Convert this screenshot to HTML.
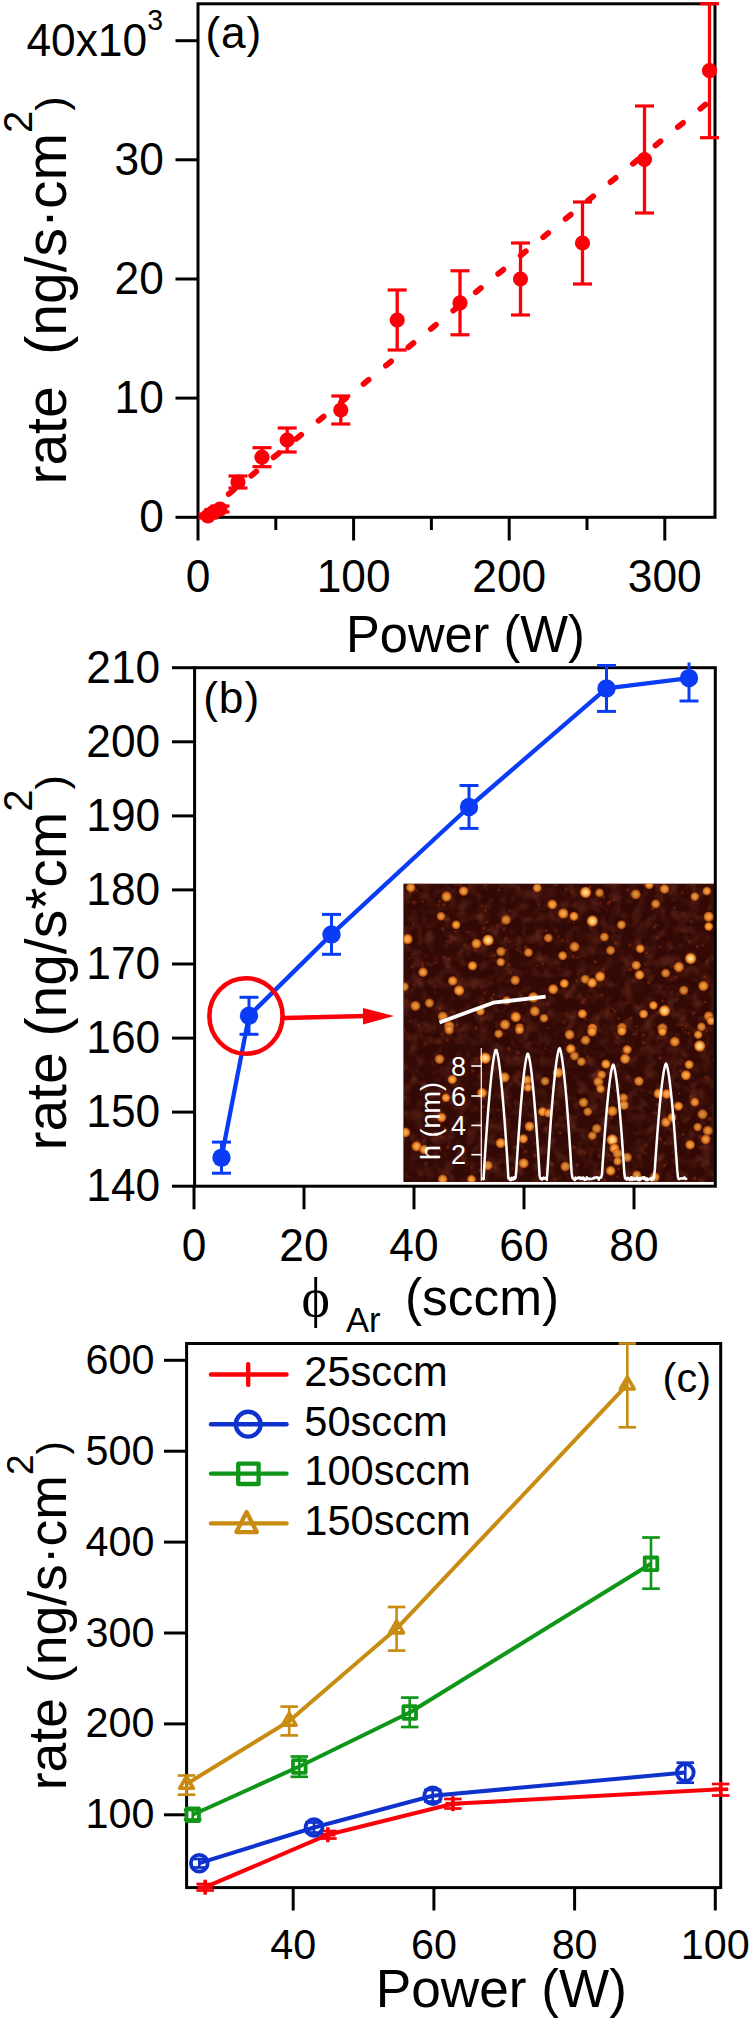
<!DOCTYPE html>
<html><head><meta charset="utf-8"><title>figure</title>
<style>html,body{margin:0;padding:0;background:#fff}svg{display:block}</style></head>
<body>
<svg width="750" height="2021" viewBox="0 0 750 2021" font-family="'Liberation Sans', Arial, sans-serif">
<rect width="750" height="2021" fill="#fff"/>
<rect x="198.0" y="3.8" width="517.0" height="513.5" fill="none" stroke="#000" stroke-width="3.0"/>
<line x1="198.0" y1="517.3" x2="198.0" y2="540.5" stroke="#000" stroke-width="3.0" />
<line x1="353.6" y1="517.3" x2="353.6" y2="540.5" stroke="#000" stroke-width="3.0" />
<line x1="509.2" y1="517.3" x2="509.2" y2="540.5" stroke="#000" stroke-width="3.0" />
<line x1="664.8" y1="517.3" x2="664.8" y2="540.5" stroke="#000" stroke-width="3.0" />
<line x1="275.8" y1="517.3" x2="275.8" y2="530.0" stroke="#000" stroke-width="3.0" />
<line x1="431.4" y1="517.3" x2="431.4" y2="530.0" stroke="#000" stroke-width="3.0" />
<line x1="587.0" y1="517.3" x2="587.0" y2="530.0" stroke="#000" stroke-width="3.0" />
<line x1="175.5" y1="517.3" x2="198.0" y2="517.3" stroke="#000" stroke-width="3.0" />
<line x1="175.5" y1="398.1" x2="198.0" y2="398.1" stroke="#000" stroke-width="3.0" />
<line x1="175.5" y1="279.0" x2="198.0" y2="279.0" stroke="#000" stroke-width="3.0" />
<line x1="175.5" y1="159.8" x2="198.0" y2="159.8" stroke="#000" stroke-width="3.0" />
<line x1="175.5" y1="40.7" x2="198.0" y2="40.7" stroke="#000" stroke-width="3.0" />
<text transform="translate(163.8,532.3) scale(1,1.04)" font-size="44.3" text-anchor="end" fill="#000" >0</text>
<text transform="translate(163.8,413.1) scale(1,1.04)" font-size="44.3" text-anchor="end" fill="#000" >10</text>
<text transform="translate(163.8,294.0) scale(1,1.04)" font-size="44.3" text-anchor="end" fill="#000" >20</text>
<text transform="translate(163.8,174.8) scale(1,1.04)" font-size="44.3" text-anchor="end" fill="#000" >30</text>
<text transform="translate(163.0,55.7) scale(1,1.04)" font-size="44.3" text-anchor="end" fill="#000" >40x10<tspan font-size="28.5" dy="-24.5">3</tspan></text>
<text transform="translate(198.0,592.2) scale(1,1.04)" font-size="44.3" text-anchor="middle" fill="#000" >0</text>
<text transform="translate(353.6,592.2) scale(1,1.04)" font-size="44.3" text-anchor="middle" fill="#000" >100</text>
<text transform="translate(509.2,592.2) scale(1,1.04)" font-size="44.3" text-anchor="middle" fill="#000" >200</text>
<text transform="translate(664.8,592.2) scale(1,1.04)" font-size="44.3" text-anchor="middle" fill="#000" >300</text>
<text transform="translate(465.5,652.2) scale(1,1.03)" font-size="50.6" text-anchor="middle" fill="#000" >Power (W)</text>
<text transform="translate(205.4,47.7) scale(1,1.0)" font-size="44.3" text-anchor="start" fill="#000" letter-spacing="0.9">(a)</text>
<text transform="translate(66,484.6) rotate(-90)" font-size="57" fill="#000" xml:space="preserve">rate  (ng/s·cm<tspan font-size="40" dy="-34">2</tspan><tspan font-size="43" dy="34">)</tspan></text>
<line x1="206.3" y1="512.4" x2="712" y2="99.2" stroke="#fa0008" stroke-width="5.8" stroke-linecap="round" stroke-dasharray="6.6 22.4"/>
<line x1="208.0" y1="514.0" x2="208.0" y2="518.0" stroke="#fa0008" stroke-width="3.3" />
<line x1="198.5" y1="514.0" x2="217.5" y2="514.0" stroke="#fa0008" stroke-width="3.2" />
<line x1="198.5" y1="518.0" x2="217.5" y2="518.0" stroke="#fa0008" stroke-width="3.2" />
<circle cx="208" cy="516" r="7.6" fill="#fa0008"/>
<line x1="214.0" y1="509.5" x2="214.0" y2="514.5" stroke="#fa0008" stroke-width="3.3" />
<line x1="204.5" y1="509.5" x2="223.5" y2="509.5" stroke="#fa0008" stroke-width="3.2" />
<line x1="204.5" y1="514.5" x2="223.5" y2="514.5" stroke="#fa0008" stroke-width="3.2" />
<circle cx="214" cy="512" r="7.6" fill="#fa0008"/>
<line x1="220.0" y1="506.0" x2="220.0" y2="512.0" stroke="#fa0008" stroke-width="3.3" />
<line x1="210.5" y1="506.0" x2="229.5" y2="506.0" stroke="#fa0008" stroke-width="3.2" />
<line x1="210.5" y1="512.0" x2="229.5" y2="512.0" stroke="#fa0008" stroke-width="3.2" />
<circle cx="220" cy="509" r="7.6" fill="#fa0008"/>
<line x1="238.0" y1="476.0" x2="238.0" y2="488.0" stroke="#fa0008" stroke-width="3.3" />
<line x1="228.5" y1="476.0" x2="247.5" y2="476.0" stroke="#fa0008" stroke-width="3.2" />
<line x1="228.5" y1="488.0" x2="247.5" y2="488.0" stroke="#fa0008" stroke-width="3.2" />
<circle cx="238" cy="482" r="7.6" fill="#fa0008"/>
<line x1="262.0" y1="447.7" x2="262.0" y2="466.7" stroke="#fa0008" stroke-width="3.3" />
<line x1="252.5" y1="447.7" x2="271.5" y2="447.7" stroke="#fa0008" stroke-width="3.2" />
<line x1="252.5" y1="466.7" x2="271.5" y2="466.7" stroke="#fa0008" stroke-width="3.2" />
<circle cx="262" cy="457.2" r="7.6" fill="#fa0008"/>
<line x1="287.2" y1="428.0" x2="287.2" y2="452.0" stroke="#fa0008" stroke-width="3.3" />
<line x1="277.7" y1="428.0" x2="296.7" y2="428.0" stroke="#fa0008" stroke-width="3.2" />
<line x1="277.7" y1="452.0" x2="296.7" y2="452.0" stroke="#fa0008" stroke-width="3.2" />
<circle cx="287.2" cy="440" r="7.6" fill="#fa0008"/>
<line x1="340.8" y1="396.0" x2="340.8" y2="424.0" stroke="#fa0008" stroke-width="3.3" />
<line x1="331.3" y1="396.0" x2="350.3" y2="396.0" stroke="#fa0008" stroke-width="3.2" />
<line x1="331.3" y1="424.0" x2="350.3" y2="424.0" stroke="#fa0008" stroke-width="3.2" />
<circle cx="340.8" cy="410" r="7.6" fill="#fa0008"/>
<line x1="397.2" y1="290.0" x2="397.2" y2="350.0" stroke="#fa0008" stroke-width="3.3" />
<line x1="387.7" y1="290.0" x2="406.7" y2="290.0" stroke="#fa0008" stroke-width="3.2" />
<line x1="387.7" y1="350.0" x2="406.7" y2="350.0" stroke="#fa0008" stroke-width="3.2" />
<circle cx="397.2" cy="320" r="7.6" fill="#fa0008"/>
<line x1="460.0" y1="270.8" x2="460.0" y2="334.8" stroke="#fa0008" stroke-width="3.3" />
<line x1="450.5" y1="270.8" x2="469.5" y2="270.8" stroke="#fa0008" stroke-width="3.2" />
<line x1="450.5" y1="334.8" x2="469.5" y2="334.8" stroke="#fa0008" stroke-width="3.2" />
<circle cx="460" cy="302.8" r="7.6" fill="#fa0008"/>
<line x1="520.5" y1="243.0" x2="520.5" y2="315.0" stroke="#fa0008" stroke-width="3.3" />
<line x1="511.0" y1="243.0" x2="530.0" y2="243.0" stroke="#fa0008" stroke-width="3.2" />
<line x1="511.0" y1="315.0" x2="530.0" y2="315.0" stroke="#fa0008" stroke-width="3.2" />
<circle cx="520.5" cy="279" r="7.6" fill="#fa0008"/>
<line x1="582.5" y1="202.0" x2="582.5" y2="284.0" stroke="#fa0008" stroke-width="3.3" />
<line x1="573.0" y1="202.0" x2="592.0" y2="202.0" stroke="#fa0008" stroke-width="3.2" />
<line x1="573.0" y1="284.0" x2="592.0" y2="284.0" stroke="#fa0008" stroke-width="3.2" />
<circle cx="582.5" cy="243" r="7.6" fill="#fa0008"/>
<line x1="644.5" y1="106.0" x2="644.5" y2="213.0" stroke="#fa0008" stroke-width="3.3" />
<line x1="635.0" y1="106.0" x2="654.0" y2="106.0" stroke="#fa0008" stroke-width="3.2" />
<line x1="635.0" y1="213.0" x2="654.0" y2="213.0" stroke="#fa0008" stroke-width="3.2" />
<circle cx="644.5" cy="159.5" r="7.6" fill="#fa0008"/>
<line x1="709.5" y1="3.7" x2="709.5" y2="137.7" stroke="#fa0008" stroke-width="3.3" />
<line x1="700.0" y1="3.7" x2="719.0" y2="3.7" stroke="#fa0008" stroke-width="3.2" />
<line x1="700.0" y1="137.7" x2="719.0" y2="137.7" stroke="#fa0008" stroke-width="3.2" />
<circle cx="709.5" cy="70.7" r="7.6" fill="#fa0008"/>
<defs><radialGradient id="dg" cx="0.5" cy="0.5" r="0.5"><stop offset="0" stop-color="#ffba5a"/><stop offset="0.5" stop-color="#f4912c"/><stop offset="0.78" stop-color="#c45c14" stop-opacity="0.9"/><stop offset="1" stop-color="#5a1a08" stop-opacity="0"/></radialGradient><radialGradient id="dgb" cx="0.5" cy="0.5" r="0.5"><stop offset="0" stop-color="#fff0c0"/><stop offset="0.5" stop-color="#ffb048"/><stop offset="0.78" stop-color="#d06818" stop-opacity="0.9"/><stop offset="1" stop-color="#5a1a08" stop-opacity="0"/></radialGradient><radialGradient id="dd" cx="0.5" cy="0.5" r="0.5"><stop offset="0" stop-color="#8a3010" stop-opacity="0.9"/><stop offset="1" stop-color="#5a1a08" stop-opacity="0"/></radialGradient><clipPath id="ic"><rect x="403.4" y="883.7" width="310.80000000000007" height="298.29999999999995"/></clipPath></defs>
<defs><filter id="nz" x="0" y="0" width="100%" height="100%"><feTurbulence type="fractalNoise" baseFrequency="0.09" numOctaves="2" seed="4" result="t"/><feColorMatrix in="t" type="matrix" values="0 0 0 0 0.45  0 0 0 0 0.11  0 0 0 0 0.05  0.5 0.5 0 0 -0.46"/></filter></defs>
<rect x="403.4" y="883.7" width="310.80000000000007" height="298.29999999999995" fill="#330905"/>
<rect x="403.4" y="883.7" width="310.80000000000007" height="298.29999999999995" fill="#fff" filter="url(#nz)"/>
<g clip-path="url(#ic)">
<circle cx="504.0" cy="928.7" r="2.5" fill="url(#dd)"/>
<circle cx="425.9" cy="1043.6" r="2.0" fill="url(#dd)"/>
<circle cx="421.4" cy="1035.1" r="1.6" fill="url(#dd)"/>
<circle cx="538.2" cy="904.5" r="1.6" fill="url(#dd)"/>
<circle cx="535.3" cy="1130.3" r="1.7" fill="url(#dd)"/>
<circle cx="472.8" cy="1070.9" r="2.9" fill="url(#dd)"/>
<circle cx="582.8" cy="1002.0" r="3.0" fill="url(#dd)"/>
<circle cx="417.9" cy="1139.8" r="1.9" fill="url(#dd)"/>
<circle cx="448.2" cy="918.8" r="2.0" fill="url(#dd)"/>
<circle cx="657.1" cy="937.6" r="2.4" fill="url(#dd)"/>
<circle cx="602.0" cy="994.8" r="2.3" fill="url(#dd)"/>
<circle cx="422.9" cy="901.5" r="1.8" fill="url(#dd)"/>
<circle cx="614.9" cy="1011.3" r="2.0" fill="url(#dd)"/>
<circle cx="585.4" cy="1018.9" r="1.9" fill="url(#dd)"/>
<circle cx="650.3" cy="1092.2" r="1.9" fill="url(#dd)"/>
<circle cx="581.9" cy="1040.4" r="2.8" fill="url(#dd)"/>
<circle cx="630.1" cy="969.6" r="3.0" fill="url(#dd)"/>
<circle cx="440.1" cy="1008.4" r="2.6" fill="url(#dd)"/>
<circle cx="450.6" cy="1029.6" r="1.6" fill="url(#dd)"/>
<circle cx="611.1" cy="1111.8" r="2.4" fill="url(#dd)"/>
<circle cx="675.5" cy="977.3" r="2.5" fill="url(#dd)"/>
<circle cx="588.1" cy="1056.7" r="2.2" fill="url(#dd)"/>
<circle cx="664.5" cy="1165.5" r="2.2" fill="url(#dd)"/>
<circle cx="609.8" cy="901.8" r="2.6" fill="url(#dd)"/>
<circle cx="604.5" cy="1179.9" r="2.7" fill="url(#dd)"/>
<circle cx="491.9" cy="998.8" r="2.5" fill="url(#dd)"/>
<circle cx="410.4" cy="1021.4" r="1.8" fill="url(#dd)"/>
<circle cx="439.8" cy="901.3" r="2.7" fill="url(#dd)"/>
<circle cx="443.6" cy="957.6" r="2.1" fill="url(#dd)"/>
<circle cx="674.2" cy="907.7" r="2.2" fill="url(#dd)"/>
<circle cx="574.2" cy="1147.2" r="2.7" fill="url(#dd)"/>
<circle cx="671.9" cy="966.8" r="2.1" fill="url(#dd)"/>
<circle cx="514.9" cy="1147.5" r="2.9" fill="url(#dd)"/>
<circle cx="450.3" cy="936.3" r="1.8" fill="url(#dd)"/>
<circle cx="475.9" cy="1028.4" r="2.4" fill="url(#dd)"/>
<circle cx="485.1" cy="884.9" r="2.1" fill="url(#dd)"/>
<circle cx="518.2" cy="1052.6" r="2.9" fill="url(#dd)"/>
<circle cx="618.0" cy="1037.5" r="2.4" fill="url(#dd)"/>
<circle cx="613.6" cy="899.8" r="2.8" fill="url(#dd)"/>
<circle cx="645.8" cy="1144.6" r="2.7" fill="url(#dd)"/>
<circle cx="525.4" cy="1002.7" r="1.7" fill="url(#dd)"/>
<circle cx="600.5" cy="902.3" r="1.6" fill="url(#dd)"/>
<circle cx="468.3" cy="932.1" r="2.0" fill="url(#dd)"/>
<circle cx="419.7" cy="883.8" r="1.7" fill="url(#dd)"/>
<circle cx="434.9" cy="992.2" r="1.5" fill="url(#dd)"/>
<circle cx="675.1" cy="1066.9" r="1.7" fill="url(#dd)"/>
<circle cx="481.8" cy="987.3" r="2.0" fill="url(#dd)"/>
<circle cx="441.6" cy="1136.9" r="3.0" fill="url(#dd)"/>
<circle cx="548.2" cy="1028.0" r="1.6" fill="url(#dd)"/>
<circle cx="435.2" cy="985.9" r="1.9" fill="url(#dd)"/>
<circle cx="661.0" cy="931.9" r="1.5" fill="url(#dd)"/>
<circle cx="699.0" cy="1041.3" r="1.7" fill="url(#dd)"/>
<circle cx="572.2" cy="891.8" r="2.3" fill="url(#dd)"/>
<circle cx="707.5" cy="1141.2" r="2.5" fill="url(#dd)"/>
<circle cx="484.6" cy="993.1" r="1.8" fill="url(#dd)"/>
<circle cx="643.3" cy="1042.6" r="2.7" fill="url(#dd)"/>
<circle cx="505.9" cy="950.2" r="2.7" fill="url(#dd)"/>
<circle cx="709.5" cy="1138.0" r="2.7" fill="url(#dd)"/>
<circle cx="657.7" cy="1104.4" r="1.8" fill="url(#dd)"/>
<circle cx="564.3" cy="989.8" r="1.5" fill="url(#dd)"/>
<circle cx="412.1" cy="967.1" r="1.9" fill="url(#dd)"/>
<circle cx="618.6" cy="1169.0" r="2.2" fill="url(#dd)"/>
<circle cx="694.6" cy="1178.4" r="2.9" fill="url(#dd)"/>
<circle cx="516.7" cy="949.5" r="1.8" fill="url(#dd)"/>
<circle cx="464.5" cy="944.7" r="2.4" fill="url(#dd)"/>
<circle cx="683.2" cy="1134.4" r="2.2" fill="url(#dd)"/>
<circle cx="606.3" cy="1122.2" r="1.6" fill="url(#dd)"/>
<circle cx="608.7" cy="1155.1" r="2.7" fill="url(#dd)"/>
<circle cx="636.5" cy="1026.3" r="1.8" fill="url(#dd)"/>
<circle cx="648.7" cy="982.9" r="2.7" fill="url(#dd)"/>
<circle cx="705.4" cy="1001.8" r="2.1" fill="url(#dd)"/>
<circle cx="697.7" cy="1099.9" r="1.8" fill="url(#dd)"/>
<circle cx="442.9" cy="928.8" r="2.9" fill="url(#dd)"/>
<circle cx="654.1" cy="927.3" r="2.7" fill="url(#dd)"/>
<circle cx="708.1" cy="1079.8" r="2.0" fill="url(#dd)"/>
<circle cx="573.9" cy="922.8" r="1.5" fill="url(#dd)"/>
<circle cx="705.2" cy="1077.5" r="2.3" fill="url(#dd)"/>
<circle cx="693.6" cy="1013.1" r="2.8" fill="url(#dd)"/>
<circle cx="660.2" cy="946.7" r="1.9" fill="url(#dd)"/>
<circle cx="494.5" cy="955.5" r="2.4" fill="url(#dd)"/>
<circle cx="484.0" cy="1008.7" r="1.7" fill="url(#dd)"/>
<circle cx="686.2" cy="989.2" r="2.2" fill="url(#dd)"/>
<circle cx="584.7" cy="1153.5" r="2.1" fill="url(#dd)"/>
<circle cx="688.6" cy="1033.3" r="2.3" fill="url(#dd)"/>
<circle cx="566.1" cy="889.3" r="2.2" fill="url(#dd)"/>
<circle cx="460.3" cy="884.9" r="2.7" fill="url(#dd)"/>
<circle cx="457.0" cy="1024.9" r="2.6" fill="url(#dd)"/>
<circle cx="576.4" cy="980.9" r="2.3" fill="url(#dd)"/>
<circle cx="576.0" cy="1117.6" r="1.7" fill="url(#dd)"/>
<circle cx="577.5" cy="957.8" r="1.9" fill="url(#dd)"/>
<circle cx="643.4" cy="1035.2" r="2.3" fill="url(#dd)"/>
<circle cx="639.6" cy="1155.9" r="2.2" fill="url(#dd)"/>
<circle cx="593.8" cy="1034.5" r="2.3" fill="url(#dd)"/>
<circle cx="618.7" cy="1018.6" r="2.3" fill="url(#dd)"/>
<circle cx="552.0" cy="1164.5" r="2.5" fill="url(#dd)"/>
<circle cx="675.8" cy="1164.8" r="1.9" fill="url(#dd)"/>
<circle cx="577.3" cy="1165.1" r="2.8" fill="url(#dd)"/>
<circle cx="446.0" cy="920.0" r="2.2" fill="url(#dd)"/>
<circle cx="425.9" cy="955.5" r="1.6" fill="url(#dd)"/>
<circle cx="611.5" cy="1117.5" r="2.8" fill="url(#dd)"/>
<circle cx="451.4" cy="1097.3" r="2.5" fill="url(#dd)"/>
<circle cx="447.8" cy="1147.0" r="3.0" fill="url(#dd)"/>
<circle cx="471.6" cy="1167.8" r="2.1" fill="url(#dd)"/>
<circle cx="554.8" cy="1179.0" r="2.7" fill="url(#dd)"/>
<circle cx="453.6" cy="1012.4" r="2.3" fill="url(#dd)"/>
<circle cx="508.8" cy="942.1" r="2.0" fill="url(#dd)"/>
<circle cx="627.8" cy="889.5" r="2.3" fill="url(#dd)"/>
<circle cx="540.3" cy="889.1" r="2.0" fill="url(#dd)"/>
<circle cx="597.3" cy="1036.5" r="1.6" fill="url(#dd)"/>
<circle cx="709.6" cy="1118.9" r="3.0" fill="url(#dd)"/>
<circle cx="436.0" cy="962.9" r="1.6" fill="url(#dd)"/>
<circle cx="645.5" cy="964.4" r="1.7" fill="url(#dd)"/>
<circle cx="534.6" cy="1155.6" r="2.7" fill="url(#dd)"/>
<circle cx="483.8" cy="928.3" r="2.9" fill="url(#dd)"/>
<circle cx="580.7" cy="1092.6" r="1.6" fill="url(#dd)"/>
<circle cx="421.3" cy="1089.0" r="2.1" fill="url(#dd)"/>
<circle cx="425.9" cy="1163.6" r="2.5" fill="url(#dd)"/>
<circle cx="652.5" cy="908.7" r="2.8" fill="url(#dd)"/>
<circle cx="424.1" cy="1141.1" r="2.2" fill="url(#dd)"/>
<circle cx="508.8" cy="1048.7" r="2.9" fill="url(#dd)"/>
<circle cx="486.7" cy="922.2" r="2.3" fill="url(#dd)"/>
<circle cx="477.5" cy="916.3" r="1.7" fill="url(#dd)"/>
<circle cx="419.1" cy="943.9" r="2.0" fill="url(#dd)"/>
<circle cx="498.2" cy="1110.3" r="1.9" fill="url(#dd)"/>
<circle cx="558.8" cy="936.8" r="2.0" fill="url(#dd)"/>
<circle cx="409.0" cy="958.4" r="1.5" fill="url(#dd)"/>
<circle cx="631.2" cy="1048.1" r="1.8" fill="url(#dd)"/>
<circle cx="551.0" cy="1162.5" r="1.7" fill="url(#dd)"/>
<circle cx="657.9" cy="1012.6" r="2.2" fill="url(#dd)"/>
<circle cx="662.8" cy="1001.0" r="2.3" fill="url(#dd)"/>
<circle cx="617.2" cy="1176.8" r="2.0" fill="url(#dd)"/>
<circle cx="662.1" cy="1094.5" r="2.5" fill="url(#dd)"/>
<circle cx="529.2" cy="987.4" r="1.6" fill="url(#dd)"/>
<circle cx="443.7" cy="904.8" r="2.6" fill="url(#dd)"/>
<circle cx="482.8" cy="932.4" r="1.6" fill="url(#dd)"/>
<circle cx="664.9" cy="1143.4" r="2.5" fill="url(#dd)"/>
<circle cx="491.0" cy="956.0" r="1.9" fill="url(#dd)"/>
<circle cx="546.2" cy="930.7" r="2.2" fill="url(#dd)"/>
<circle cx="485.2" cy="1170.6" r="3.0" fill="url(#dd)"/>
<circle cx="573.4" cy="956.6" r="2.9" fill="url(#dd)"/>
<circle cx="499.6" cy="990.1" r="1.5" fill="url(#dd)"/>
<circle cx="522.0" cy="1025.3" r="2.3" fill="url(#dd)"/>
<circle cx="465.9" cy="1034.3" r="1.5" fill="url(#dd)"/>
<circle cx="485.5" cy="910.5" r="2.1" fill="url(#dd)"/>
<circle cx="416.4" cy="890.4" r="2.0" fill="url(#dd)"/>
<circle cx="475.8" cy="1058.4" r="2.3" fill="url(#dd)"/>
<circle cx="636.7" cy="1079.8" r="2.6" fill="url(#dd)"/>
<circle cx="676.6" cy="999.9" r="2.0" fill="url(#dd)"/>
<circle cx="709.5" cy="928.3" r="2.6" fill="url(#dd)"/>
<circle cx="603.3" cy="896.8" r="2.8" fill="url(#dd)"/>
<circle cx="680.6" cy="1070.8" r="2.6" fill="url(#dd)"/>
<circle cx="655.8" cy="925.3" r="2.3" fill="url(#dd)"/>
<circle cx="560.2" cy="1132.8" r="2.7" fill="url(#dd)"/>
<circle cx="660.2" cy="1057.9" r="2.8" fill="url(#dd)"/>
<circle cx="615.6" cy="1090.5" r="1.8" fill="url(#dd)"/>
<circle cx="413.1" cy="923.4" r="2.0" fill="url(#dd)"/>
<circle cx="436.0" cy="1133.0" r="2.3" fill="url(#dd)"/>
<circle cx="598.5" cy="1070.5" r="2.5" fill="url(#dd)"/>
<circle cx="555.5" cy="884.7" r="2.7" fill="url(#dd)"/>
<circle cx="636.0" cy="1033.7" r="2.3" fill="url(#dd)"/>
<circle cx="608.3" cy="903.4" r="2.6" fill="url(#dd)"/>
<circle cx="481.8" cy="905.9" r="1.9" fill="url(#dd)"/>
<circle cx="630.1" cy="944.9" r="2.6" fill="url(#dd)"/>
<circle cx="706.7" cy="1031.0" r="2.1" fill="url(#dd)"/>
<circle cx="552.3" cy="1087.6" r="2.7" fill="url(#dd)"/>
<circle cx="595.2" cy="1075.4" r="1.6" fill="url(#dd)"/>
<circle cx="449.2" cy="959.5" r="2.6" fill="url(#dd)"/>
<circle cx="498.0" cy="1053.1" r="1.5" fill="url(#dd)"/>
<circle cx="422.3" cy="963.9" r="2.5" fill="url(#dd)"/>
<circle cx="618.5" cy="1085.3" r="1.9" fill="url(#dd)"/>
<circle cx="563.9" cy="1022.3" r="2.2" fill="url(#dd)"/>
<circle cx="440.2" cy="1150.3" r="1.8" fill="url(#dd)"/>
<circle cx="707.4" cy="1163.0" r="1.5" fill="url(#dd)"/>
<circle cx="546.0" cy="1128.3" r="3.0" fill="url(#dd)"/>
<circle cx="543.1" cy="963.8" r="1.8" fill="url(#dd)"/>
<circle cx="697.3" cy="946.6" r="2.4" fill="url(#dd)"/>
<circle cx="447.5" cy="1040.0" r="2.9" fill="url(#dd)"/>
<circle cx="444.6" cy="1128.4" r="2.3" fill="url(#dd)"/>
<circle cx="679.0" cy="1093.5" r="1.8" fill="url(#dd)"/>
<circle cx="682.4" cy="1028.7" r="1.5" fill="url(#dd)"/>
<circle cx="404.5" cy="1030.4" r="2.2" fill="url(#dd)"/>
<circle cx="497.2" cy="925.7" r="2.0" fill="url(#dd)"/>
<circle cx="501.6" cy="1134.3" r="1.5" fill="url(#dd)"/>
<circle cx="636.7" cy="1134.0" r="1.7" fill="url(#dd)"/>
<circle cx="691.3" cy="1096.4" r="2.9" fill="url(#dd)"/>
<circle cx="493.5" cy="994.7" r="2.1" fill="url(#dd)"/>
<circle cx="713.8" cy="1059.5" r="2.0" fill="url(#dd)"/>
<circle cx="536.4" cy="965.8" r="1.6" fill="url(#dd)"/>
<circle cx="435.0" cy="1132.7" r="1.9" fill="url(#dd)"/>
<circle cx="694.2" cy="958.1" r="1.9" fill="url(#dd)"/>
<circle cx="562.2" cy="940.3" r="2.1" fill="url(#dd)"/>
<circle cx="700.6" cy="1147.5" r="2.7" fill="url(#dd)"/>
<circle cx="599.5" cy="1156.2" r="2.9" fill="url(#dd)"/>
<circle cx="574.1" cy="1098.3" r="1.6" fill="url(#dd)"/>
<circle cx="631.0" cy="1018.2" r="2.6" fill="url(#dd)"/>
<circle cx="603.7" cy="969.1" r="1.6" fill="url(#dd)"/>
<circle cx="691.4" cy="921.7" r="2.2" fill="url(#dd)"/>
<circle cx="510.2" cy="972.5" r="2.6" fill="url(#dd)"/>
<circle cx="706.8" cy="961.3" r="2.5" fill="url(#dd)"/>
<circle cx="496.9" cy="1049.9" r="2.1" fill="url(#dd)"/>
<circle cx="455.4" cy="931.9" r="1.8" fill="url(#dd)"/>
<circle cx="685.0" cy="1032.0" r="1.8" fill="url(#dd)"/>
<circle cx="685.1" cy="1180.9" r="2.2" fill="url(#dd)"/>
<circle cx="446.8" cy="941.1" r="1.6" fill="url(#dd)"/>
<circle cx="509.7" cy="910.9" r="1.9" fill="url(#dd)"/>
<circle cx="483.7" cy="1053.6" r="2.8" fill="url(#dd)"/>
<circle cx="636.4" cy="1006.8" r="2.1" fill="url(#dd)"/>
<circle cx="566.3" cy="996.1" r="2.0" fill="url(#dd)"/>
<circle cx="422.7" cy="966.5" r="3.0" fill="url(#dd)"/>
<circle cx="442.5" cy="1033.9" r="2.4" fill="url(#dd)"/>
<circle cx="671.6" cy="948.1" r="1.9" fill="url(#dd)"/>
<circle cx="480.6" cy="1002.9" r="2.2" fill="url(#dd)"/>
<circle cx="699.9" cy="1136.9" r="2.8" fill="url(#dd)"/>
<circle cx="410.2" cy="893.3" r="2.6" fill="url(#dd)"/>
<circle cx="681.8" cy="1024.9" r="2.4" fill="url(#dd)"/>
<circle cx="403.5" cy="1000.5" r="2.9" fill="url(#dd)"/>
<circle cx="660.0" cy="1138.9" r="3.0" fill="url(#dd)"/>
<circle cx="480.6" cy="916.2" r="1.7" fill="url(#dd)"/>
<circle cx="565.8" cy="1087.2" r="2.9" fill="url(#dd)"/>
<circle cx="627.7" cy="1076.8" r="2.6" fill="url(#dd)"/>
<circle cx="545.5" cy="1048.2" r="1.6" fill="url(#dd)"/>
<circle cx="646.5" cy="953.1" r="2.9" fill="url(#dd)"/>
<circle cx="604.0" cy="974.3" r="1.7" fill="url(#dd)"/>
<circle cx="481.7" cy="1073.5" r="2.5" fill="url(#dd)"/>
<circle cx="438.3" cy="904.7" r="2.3" fill="url(#dd)"/>
<circle cx="584.6" cy="999.5" r="1.8" fill="url(#dd)"/>
<circle cx="590.2" cy="886.8" r="2.0" fill="url(#dd)"/>
<circle cx="546.6" cy="1169.8" r="2.5" fill="url(#dd)"/>
<circle cx="678.1" cy="1025.5" r="1.9" fill="url(#dd)"/>
<circle cx="480.2" cy="1170.3" r="2.6" fill="url(#dd)"/>
<circle cx="498.9" cy="890.2" r="2.2" fill="url(#dd)"/>
<circle cx="613.0" cy="1009.0" r="1.9" fill="url(#dd)"/>
<circle cx="610.8" cy="1159.7" r="1.8" fill="url(#dd)"/>
<circle cx="414.0" cy="984.5" r="2.1" fill="url(#dd)"/>
<circle cx="615.5" cy="942.8" r="2.7" fill="url(#dd)"/>
<circle cx="633.1" cy="1034.3" r="1.8" fill="url(#dd)"/>
<circle cx="704.8" cy="976.7" r="2.7" fill="url(#dd)"/>
<circle cx="475.1" cy="949.8" r="2.6" fill="url(#dd)"/>
<circle cx="495.1" cy="1167.7" r="2.2" fill="url(#dd)"/>
<circle cx="461.6" cy="950.3" r="2.1" fill="url(#dd)"/>
<circle cx="610.2" cy="1166.7" r="1.7" fill="url(#dd)"/>
<circle cx="525.7" cy="947.2" r="3.0" fill="url(#dd)"/>
<circle cx="447.5" cy="899.2" r="1.6" fill="url(#dd)"/>
<circle cx="525.6" cy="1151.6" r="2.8" fill="url(#dd)"/>
<circle cx="631.1" cy="1181.3" r="2.9" fill="url(#dd)"/>
<circle cx="505.7" cy="939.0" r="2.9" fill="url(#dd)"/>
<circle cx="635.4" cy="893.2" r="2.5" fill="url(#dd)"/>
<circle cx="521.1" cy="995.2" r="2.0" fill="url(#dd)"/>
<circle cx="456.0" cy="884.6" r="1.9" fill="url(#dd)"/>
<circle cx="512.6" cy="1168.7" r="1.7" fill="url(#dd)"/>
<circle cx="703.1" cy="945.6" r="2.0" fill="url(#dd)"/>
<circle cx="658.7" cy="1128.9" r="2.1" fill="url(#dd)"/>
<circle cx="418.7" cy="1024.9" r="2.1" fill="url(#dd)"/>
<circle cx="689.2" cy="941.3" r="2.0" fill="url(#dd)"/>
<circle cx="682.2" cy="892.7" r="2.1" fill="url(#dd)"/>
<circle cx="655.7" cy="1112.4" r="1.6" fill="url(#dd)"/>
<circle cx="414.2" cy="902.4" r="2.9" fill="url(#dd)"/>
<circle cx="483.3" cy="1106.6" r="2.8" fill="url(#dd)"/>
<circle cx="508.8" cy="964.9" r="2.9" fill="url(#dd)"/>
<circle cx="595.2" cy="961.9" r="2.6" fill="url(#dd)"/>
<circle cx="410.7" cy="887.5" r="5.4" fill="url(#dg)" opacity="0.90"/>
<circle cx="446.5" cy="896.6" r="5.8" fill="url(#dg)" opacity="0.88"/>
<circle cx="463.6" cy="891.1" r="5.4" fill="url(#dg)" opacity="0.91"/>
<circle cx="537.2" cy="887.9" r="5.1" fill="url(#dg)" opacity="0.89"/>
<circle cx="552.3" cy="904.5" r="5.5" fill="url(#dg)" opacity="0.95"/>
<circle cx="441.0" cy="916.3" r="5.0" fill="url(#dg)" opacity="0.85"/>
<circle cx="456.1" cy="924.8" r="5.0" fill="url(#dg)" opacity="0.96"/>
<circle cx="506.0" cy="919.9" r="5.6" fill="url(#dg)" opacity="0.79"/>
<circle cx="407.5" cy="939.1" r="5.9" fill="url(#dg)" opacity="0.99"/>
<circle cx="476.4" cy="943.6" r="5.6" fill="url(#dg)" opacity="0.92"/>
<circle cx="488.1" cy="940.2" r="6.4" fill="url(#dgb)" opacity="1.00"/>
<circle cx="548.3" cy="938.0" r="5.1" fill="url(#dg)" opacity="0.78"/>
<circle cx="500.9" cy="951.5" r="5.4" fill="url(#dg)" opacity="0.79"/>
<circle cx="528.4" cy="952.5" r="5.1" fill="url(#dg)" opacity="0.83"/>
<circle cx="500.7" cy="962.1" r="4.9" fill="url(#dg)" opacity="0.88"/>
<circle cx="472.5" cy="965.8" r="5.3" fill="url(#dg)" opacity="0.97"/>
<circle cx="423.0" cy="972.2" r="5.4" fill="url(#dg)" opacity="0.92"/>
<circle cx="452.7" cy="980.9" r="5.4" fill="url(#dg)" opacity="0.93"/>
<circle cx="515.2" cy="980.3" r="5.4" fill="url(#dg)" opacity="0.84"/>
<circle cx="459.1" cy="990.5" r="5.9" fill="url(#dg)" opacity="1.00"/>
<circle cx="553.2" cy="989.2" r="5.7" fill="url(#dg)" opacity="0.94"/>
<circle cx="404.3" cy="986.7" r="5.2" fill="url(#dg)" opacity="0.83"/>
<circle cx="429.4" cy="1003.1" r="5.2" fill="url(#dg)" opacity="0.80"/>
<circle cx="415.4" cy="1005.9" r="5.7" fill="url(#dg)" opacity="0.87"/>
<circle cx="534.8" cy="1011.2" r="5.7" fill="url(#dg)" opacity="0.87"/>
<circle cx="515.8" cy="1017.0" r="5.9" fill="url(#dg)" opacity="0.97"/>
<circle cx="544.0" cy="1018.2" r="4.9" fill="url(#dg)" opacity="0.83"/>
<circle cx="505.0" cy="1024.6" r="5.8" fill="url(#dg)" opacity="0.88"/>
<circle cx="449.1" cy="1026.1" r="5.9" fill="url(#dg)" opacity="0.87"/>
<circle cx="480.4" cy="1011.2" r="5.0" fill="url(#dg)" opacity="0.92"/>
<circle cx="442.7" cy="1016.5" r="5.7" fill="url(#dg)" opacity="0.84"/>
<circle cx="519.5" cy="1027.6" r="5.0" fill="url(#dg)" opacity="0.85"/>
<circle cx="533.3" cy="997.3" r="5.9" fill="url(#dg)" opacity="0.95"/>
<circle cx="506.7" cy="1000.5" r="5.0" fill="url(#dg)" opacity="0.83"/>
<circle cx="585.6" cy="892.4" r="6.4" fill="url(#dgb)" opacity="1.00"/>
<circle cx="599.5" cy="892.8" r="5.0" fill="url(#dg)" opacity="0.79"/>
<circle cx="635.7" cy="894.3" r="5.7" fill="url(#dg)" opacity="0.82"/>
<circle cx="664.5" cy="889.0" r="5.5" fill="url(#dg)" opacity="0.88"/>
<circle cx="649.2" cy="884.7" r="5.1" fill="url(#dg)" opacity="0.94"/>
<circle cx="706.8" cy="891.1" r="5.0" fill="url(#dg)" opacity="0.92"/>
<circle cx="694.8" cy="896.6" r="5.0" fill="url(#dg)" opacity="0.87"/>
<circle cx="655.6" cy="903.9" r="5.1" fill="url(#dg)" opacity="0.84"/>
<circle cx="563.2" cy="913.5" r="5.9" fill="url(#dg)" opacity="0.96"/>
<circle cx="573.9" cy="916.3" r="5.2" fill="url(#dg)" opacity="0.97"/>
<circle cx="592.4" cy="921.0" r="6.4" fill="url(#dgb)" opacity="1.00"/>
<circle cx="621.4" cy="924.8" r="5.1" fill="url(#dg)" opacity="0.87"/>
<circle cx="708.7" cy="916.7" r="5.8" fill="url(#dg)" opacity="0.92"/>
<circle cx="708.7" cy="926.5" r="5.0" fill="url(#dg)" opacity="1.00"/>
<circle cx="604.4" cy="937.0" r="5.1" fill="url(#dg)" opacity="0.84"/>
<circle cx="574.5" cy="946.8" r="5.7" fill="url(#dg)" opacity="0.85"/>
<circle cx="610.6" cy="950.4" r="5.2" fill="url(#dg)" opacity="0.80"/>
<circle cx="640.2" cy="948.7" r="5.0" fill="url(#dg)" opacity="0.91"/>
<circle cx="562.6" cy="955.7" r="5.1" fill="url(#dg)" opacity="0.91"/>
<circle cx="690.6" cy="958.5" r="6.4" fill="url(#dgb)" opacity="1.00"/>
<circle cx="636.2" cy="965.3" r="5.3" fill="url(#dg)" opacity="0.88"/>
<circle cx="678.8" cy="967.0" r="5.9" fill="url(#dg)" opacity="0.89"/>
<circle cx="639.6" cy="974.9" r="5.5" fill="url(#dg)" opacity="0.97"/>
<circle cx="665.6" cy="973.2" r="5.1" fill="url(#dg)" opacity="0.81"/>
<circle cx="600.1" cy="976.6" r="5.8" fill="url(#dg)" opacity="0.96"/>
<circle cx="585.2" cy="979.2" r="5.1" fill="url(#dg)" opacity="0.82"/>
<circle cx="592.0" cy="982.8" r="5.6" fill="url(#dg)" opacity="0.99"/>
<circle cx="564.3" cy="983.5" r="5.1" fill="url(#dg)" opacity="0.99"/>
<circle cx="703.4" cy="986.0" r="5.8" fill="url(#dg)" opacity="0.91"/>
<circle cx="683.7" cy="990.3" r="5.3" fill="url(#dg)" opacity="0.80"/>
<circle cx="653.4" cy="1005.4" r="4.9" fill="url(#dg)" opacity="0.99"/>
<circle cx="664.5" cy="1010.8" r="6.4" fill="url(#dgb)" opacity="1.00"/>
<circle cx="643.6" cy="1014.0" r="5.1" fill="url(#dg)" opacity="0.94"/>
<circle cx="582.4" cy="1013.8" r="5.2" fill="url(#dg)" opacity="0.96"/>
<circle cx="708.7" cy="1016.1" r="5.5" fill="url(#dg)" opacity="0.84"/>
<circle cx="711.0" cy="1020.8" r="5.1" fill="url(#dg)" opacity="0.94"/>
<circle cx="701.4" cy="1026.8" r="5.0" fill="url(#dg)" opacity="0.83"/>
<circle cx="592.4" cy="1028.3" r="5.5" fill="url(#dg)" opacity="0.97"/>
<circle cx="621.9" cy="1027.6" r="5.5" fill="url(#dg)" opacity="0.84"/>
<circle cx="662.4" cy="1028.3" r="5.8" fill="url(#dg)" opacity="0.82"/>
<circle cx="498.6" cy="1033.8" r="4.9" fill="url(#dg)" opacity="0.84"/>
<circle cx="449.1" cy="1030.0" r="5.3" fill="url(#dg)" opacity="0.79"/>
<circle cx="519.5" cy="1030.0" r="5.1" fill="url(#dg)" opacity="0.86"/>
<circle cx="439.5" cy="1059.2" r="5.5" fill="url(#dg)" opacity="0.81"/>
<circle cx="485.3" cy="1058.2" r="6.4" fill="url(#dgb)" opacity="1.00"/>
<circle cx="452.3" cy="1079.5" r="5.3" fill="url(#dg)" opacity="0.98"/>
<circle cx="504.5" cy="1077.4" r="5.9" fill="url(#dg)" opacity="0.92"/>
<circle cx="526.9" cy="1080.1" r="5.6" fill="url(#dg)" opacity="0.91"/>
<circle cx="545.1" cy="1081.2" r="5.0" fill="url(#dg)" opacity="0.79"/>
<circle cx="445.9" cy="1097.8" r="4.9" fill="url(#dg)" opacity="0.98"/>
<circle cx="482.1" cy="1092.9" r="5.6" fill="url(#dg)" opacity="0.99"/>
<circle cx="528.0" cy="1087.6" r="4.9" fill="url(#dg)" opacity="0.92"/>
<circle cx="441.6" cy="1117.5" r="5.4" fill="url(#dg)" opacity="0.94"/>
<circle cx="542.5" cy="1111.7" r="5.2" fill="url(#dg)" opacity="1.00"/>
<circle cx="548.3" cy="1113.2" r="5.0" fill="url(#dg)" opacity="0.90"/>
<circle cx="405.3" cy="1132.4" r="5.6" fill="url(#dg)" opacity="0.98"/>
<circle cx="529.5" cy="1126.4" r="5.6" fill="url(#dg)" opacity="0.93"/>
<circle cx="416.6" cy="1146.3" r="5.7" fill="url(#dg)" opacity="0.98"/>
<circle cx="424.1" cy="1149.5" r="5.3" fill="url(#dg)" opacity="0.93"/>
<circle cx="500.7" cy="1143.1" r="5.8" fill="url(#dg)" opacity="0.97"/>
<circle cx="523.3" cy="1138.8" r="5.3" fill="url(#dg)" opacity="0.95"/>
<circle cx="523.7" cy="1163.3" r="5.8" fill="url(#dg)" opacity="0.91"/>
<circle cx="487.9" cy="1165.5" r="5.5" fill="url(#dg)" opacity="0.86"/>
<circle cx="442.7" cy="1179.3" r="5.5" fill="url(#dg)" opacity="0.91"/>
<circle cx="471.5" cy="1179.3" r="5.0" fill="url(#dg)" opacity="0.92"/>
<circle cx="557.9" cy="1072.7" r="5.9" fill="url(#dg)" opacity="0.97"/>
<circle cx="569.6" cy="1034.7" r="5.6" fill="url(#dg)" opacity="0.87"/>
<circle cx="592.0" cy="1031.7" r="5.6" fill="url(#dg)" opacity="0.91"/>
<circle cx="621.9" cy="1031.1" r="5.3" fill="url(#dg)" opacity="0.96"/>
<circle cx="662.4" cy="1031.7" r="5.0" fill="url(#dg)" opacity="0.95"/>
<circle cx="698.2" cy="1034.7" r="4.9" fill="url(#dg)" opacity="0.91"/>
<circle cx="585.6" cy="1040.2" r="5.4" fill="url(#dg)" opacity="0.83"/>
<circle cx="699.7" cy="1046.0" r="6.4" fill="url(#dgb)" opacity="1.00"/>
<circle cx="674.8" cy="1041.7" r="5.6" fill="url(#dg)" opacity="0.89"/>
<circle cx="570.7" cy="1048.8" r="5.5" fill="url(#dg)" opacity="0.98"/>
<circle cx="574.5" cy="1056.0" r="5.2" fill="url(#dg)" opacity="0.78"/>
<circle cx="627.2" cy="1049.6" r="5.2" fill="url(#dg)" opacity="0.93"/>
<circle cx="581.3" cy="1061.6" r="5.1" fill="url(#dg)" opacity="0.82"/>
<circle cx="625.1" cy="1058.8" r="5.8" fill="url(#dg)" opacity="0.93"/>
<circle cx="605.9" cy="1064.1" r="5.3" fill="url(#dg)" opacity="0.98"/>
<circle cx="689.1" cy="1064.6" r="5.2" fill="url(#dg)" opacity="0.93"/>
<circle cx="601.6" cy="1074.8" r="5.1" fill="url(#dg)" opacity="0.87"/>
<circle cx="685.9" cy="1075.2" r="5.7" fill="url(#dg)" opacity="0.98"/>
<circle cx="598.4" cy="1081.8" r="5.8" fill="url(#dg)" opacity="0.86"/>
<circle cx="638.9" cy="1081.2" r="5.5" fill="url(#dg)" opacity="0.85"/>
<circle cx="600.5" cy="1088.7" r="5.0" fill="url(#dg)" opacity="0.89"/>
<circle cx="658.6" cy="1093.6" r="5.7" fill="url(#dg)" opacity="0.97"/>
<circle cx="666.7" cy="1094.0" r="5.6" fill="url(#dg)" opacity="0.99"/>
<circle cx="623.4" cy="1097.8" r="5.2" fill="url(#dg)" opacity="0.82"/>
<circle cx="583.5" cy="1102.5" r="5.4" fill="url(#dg)" opacity="0.84"/>
<circle cx="694.8" cy="1102.1" r="5.1" fill="url(#dg)" opacity="0.87"/>
<circle cx="624.0" cy="1105.1" r="5.5" fill="url(#dg)" opacity="0.89"/>
<circle cx="678.4" cy="1106.2" r="5.2" fill="url(#dg)" opacity="0.96"/>
<circle cx="612.3" cy="1111.1" r="5.9" fill="url(#dg)" opacity="0.88"/>
<circle cx="587.7" cy="1111.7" r="5.0" fill="url(#dg)" opacity="0.79"/>
<circle cx="702.5" cy="1114.3" r="5.8" fill="url(#dg)" opacity="0.79"/>
<circle cx="666.0" cy="1122.2" r="5.6" fill="url(#dg)" opacity="0.91"/>
<circle cx="672.0" cy="1117.5" r="5.2" fill="url(#dg)" opacity="0.95"/>
<circle cx="697.6" cy="1127.1" r="4.9" fill="url(#dg)" opacity="0.81"/>
<circle cx="596.7" cy="1128.6" r="5.4" fill="url(#dg)" opacity="0.79"/>
<circle cx="707.8" cy="1130.7" r="5.7" fill="url(#dg)" opacity="0.83"/>
<circle cx="592.4" cy="1135.6" r="5.0" fill="url(#dg)" opacity="0.79"/>
<circle cx="612.3" cy="1139.9" r="6.4" fill="url(#dgb)" opacity="1.00"/>
<circle cx="705.7" cy="1139.4" r="5.5" fill="url(#dg)" opacity="0.88"/>
<circle cx="690.1" cy="1144.8" r="5.5" fill="url(#dg)" opacity="0.92"/>
<circle cx="614.4" cy="1148.4" r="5.7" fill="url(#dg)" opacity="0.99"/>
<circle cx="617.6" cy="1153.7" r="5.6" fill="url(#dg)" opacity="0.82"/>
<circle cx="627.2" cy="1157.4" r="5.4" fill="url(#dg)" opacity="0.82"/>
<circle cx="617.6" cy="1161.2" r="4.9" fill="url(#dg)" opacity="0.88"/>
<circle cx="565.3" cy="1166.5" r="5.6" fill="url(#dg)" opacity="0.82"/>
<circle cx="636.8" cy="1175.1" r="5.2" fill="url(#dg)" opacity="0.86"/>
<circle cx="654.9" cy="1177.2" r="5.6" fill="url(#dg)" opacity="0.89"/>
<circle cx="610.6" cy="1170.8" r="5.5" fill="url(#dg)" opacity="0.95"/>
</g>
<polyline points="439.5,1022.5 493.2,1002.7 545.7,996.7" fill="none" stroke="#fff" stroke-width="3.8" stroke-linejoin="round"/>
<line x1="481.3" y1="1048" x2="481.3" y2="1181" stroke="#fff" stroke-width="1.3" opacity="0.9"/>
<line x1="471.3" y1="1066.0" x2="481.3" y2="1066.0" stroke="#fff" stroke-width="1.6"/>
<text transform="translate(466.0,1075.6) scale(1,1.04)" font-size="27" text-anchor="end" fill="#fff" >8</text>
<line x1="471.3" y1="1096.0" x2="481.3" y2="1096.0" stroke="#fff" stroke-width="1.6"/>
<text transform="translate(466.0,1105.6) scale(1,1.04)" font-size="27" text-anchor="end" fill="#fff" >6</text>
<line x1="471.3" y1="1125.4" x2="481.3" y2="1125.4" stroke="#fff" stroke-width="1.6"/>
<text transform="translate(466.0,1135.0) scale(1,1.04)" font-size="27" text-anchor="end" fill="#fff" >4</text>
<line x1="471.3" y1="1154.7" x2="481.3" y2="1154.7" stroke="#fff" stroke-width="1.6"/>
<text transform="translate(466.0,1164.3) scale(1,1.04)" font-size="27" text-anchor="end" fill="#fff" >2</text>
<text transform="translate(440,1160) rotate(-90)" font-size="27" fill="#fff">h (nm)</text>
<polyline points="482.0,1179.5 482.8,1178.6 483.6,1179.1 484.4,1164.4 485.2,1152.0 486.0,1140.1 486.8,1128.8 487.6,1118.1 488.4,1107.9 489.2,1098.4 490.0,1089.5 490.8,1081.3 491.6,1073.9 492.4,1067.2 493.2,1061.3 494.0,1056.4 494.8,1052.5 495.6,1050.0 496.4,1050.0 497.2,1052.5 498.0,1056.4 498.8,1061.3 499.6,1067.2 500.4,1073.9 501.2,1081.3 502.0,1089.5 502.8,1098.4 503.6,1107.9 504.4,1118.1 505.2,1128.8 506.0,1140.1 506.8,1152.0 507.6,1164.4 508.4,1178.4 509.2,1178.3 510.0,1180.0 510.8,1180.2 511.6,1177.7 512.4,1179.4 513.2,1179.5 514.0,1177.2 514.8,1178.8 515.6,1177.7 516.4,1169.1 517.2,1156.4 518.0,1144.3 518.8,1132.7 519.6,1121.7 520.4,1111.4 521.2,1101.7 522.0,1092.7 522.8,1084.4 523.6,1076.9 524.4,1070.2 525.2,1064.4 526.0,1059.5 526.8,1055.9 527.6,1053.7 528.4,1054.5 529.2,1057.5 530.0,1061.8 530.8,1067.2 531.6,1073.4 532.4,1080.6 533.2,1088.5 534.0,1097.1 534.8,1106.5 535.6,1116.5 536.4,1127.1 537.2,1138.4 538.0,1150.3 538.8,1162.7 539.6,1175.7 540.4,1178.8 541.2,1178.3 542.0,1179.7 542.8,1178.3 543.6,1177.6 544.4,1178.6 545.2,1178.0 546.0,1178.2 546.8,1180.0 547.6,1169.1 548.4,1156.3 549.2,1144.1 550.0,1132.4 550.8,1121.4 551.6,1110.9 552.4,1101.0 553.2,1091.8 554.0,1083.2 554.8,1075.4 555.6,1068.3 556.4,1062.1 557.2,1056.7 558.0,1052.4 558.8,1049.3 559.6,1048.1 560.4,1049.9 561.2,1053.4 562.0,1058.0 562.8,1063.6 563.6,1070.0 564.4,1077.3 565.2,1085.3 566.0,1094.0 566.8,1103.4 567.6,1113.4 568.4,1124.1 569.2,1135.3 570.0,1147.1 570.8,1159.5 571.6,1172.4 572.4,1177.9 573.2,1178.4 574.0,1179.3 574.8,1180.1 575.6,1177.6 576.4,1178.8 577.2,1178.0 578.0,1177.6 578.8,1178.1 579.6,1177.4 580.4,1179.0 581.2,1177.8 582.0,1178.9 582.8,1177.4 583.6,1177.6 584.4,1179.9 585.2,1179.8 586.0,1179.5 586.8,1177.3 587.6,1178.9 588.4,1178.3 589.2,1179.3 590.0,1178.7 590.8,1179.0 591.6,1179.1 592.4,1178.4 593.2,1178.4 594.0,1177.5 594.8,1178.2 595.6,1177.4 596.4,1177.6 597.2,1177.2 598.0,1178.2 598.8,1179.7 599.6,1177.6 600.4,1177.3 601.2,1177.5 602.0,1174.3 602.8,1162.0 603.6,1150.3 604.4,1139.1 605.2,1128.6 606.0,1118.6 606.8,1109.3 607.6,1100.7 608.4,1092.8 609.2,1085.6 610.0,1079.3 610.8,1073.8 611.6,1069.4 612.4,1066.1 613.2,1064.5 614.0,1066.1 614.8,1069.4 615.6,1073.8 616.4,1079.3 617.2,1085.6 618.0,1092.8 618.8,1100.7 619.6,1109.3 620.4,1118.6 621.2,1128.6 622.0,1139.1 622.8,1150.3 623.6,1162.0 624.4,1174.3 625.2,1178.5 626.0,1178.1 626.8,1179.6 627.6,1177.7 628.4,1178.5 629.2,1179.3 630.0,1180.0 630.8,1177.6 631.6,1177.2 632.4,1179.9 633.2,1177.8 634.0,1179.0 634.8,1179.7 635.6,1179.3 636.4,1177.9 637.2,1177.6 638.0,1180.1 638.8,1178.4 639.6,1180.1 640.4,1178.0 641.2,1179.2 642.0,1177.6 642.8,1177.3 643.6,1178.7 644.4,1177.2 645.2,1179.3 646.0,1180.0 646.8,1178.4 647.6,1180.1 648.4,1179.6 649.2,1179.0 650.0,1178.4 650.8,1179.7 651.6,1180.1 652.4,1177.6 653.2,1179.3 654.0,1177.3 654.8,1169.7 655.6,1157.9 656.4,1146.5 657.2,1135.7 658.0,1125.5 658.8,1115.9 659.6,1106.9 660.4,1098.5 661.2,1090.9 662.0,1084.0 662.8,1077.8 663.6,1072.5 664.4,1068.2 665.2,1065.1 666.0,1063.5 666.8,1065.1 667.6,1068.2 668.4,1072.5 669.2,1077.8 670.0,1084.0 670.8,1090.9 671.6,1098.5 672.4,1106.9 673.2,1115.9 674.0,1125.5 674.8,1135.7 675.6,1146.5 676.4,1157.9 677.2,1169.7 678.0,1177.5 678.8,1179.1 679.6,1178.8 680.4,1178.6 681.2,1178.3 682.0,1178.4 682.8,1178.5 683.6,1178.3 684.4,1177.4 685.2,1178.7 686.0,1178.9 686.8,1178.0" fill="none" stroke="#fff" stroke-width="2.5" stroke-linejoin="round"/>
<rect x="194.6" y="667.7" width="520.6999999999999" height="518.5" fill="none" stroke="#000" stroke-width="3.0"/>
<line x1="194.0" y1="1186.2" x2="194.0" y2="1209.3" stroke="#000" stroke-width="3.0" />
<line x1="304.0" y1="1186.2" x2="304.0" y2="1209.3" stroke="#000" stroke-width="3.0" />
<line x1="414.0" y1="1186.2" x2="414.0" y2="1209.3" stroke="#000" stroke-width="3.0" />
<line x1="524.0" y1="1186.2" x2="524.0" y2="1209.3" stroke="#000" stroke-width="3.0" />
<line x1="634.0" y1="1186.2" x2="634.0" y2="1209.3" stroke="#000" stroke-width="3.0" />
<line x1="172.0" y1="1186.2" x2="194.6" y2="1186.2" stroke="#000" stroke-width="3.0" />
<text transform="translate(160.2,1201.2) scale(1,1.04)" font-size="44.3" text-anchor="end" fill="#000" >140</text>
<line x1="172.0" y1="1112.1" x2="194.6" y2="1112.1" stroke="#000" stroke-width="3.0" />
<text transform="translate(160.2,1127.1) scale(1,1.04)" font-size="44.3" text-anchor="end" fill="#000" >150</text>
<line x1="172.0" y1="1038.1" x2="194.6" y2="1038.1" stroke="#000" stroke-width="3.0" />
<text transform="translate(160.2,1053.1) scale(1,1.04)" font-size="44.3" text-anchor="end" fill="#000" >160</text>
<line x1="172.0" y1="964.0" x2="194.6" y2="964.0" stroke="#000" stroke-width="3.0" />
<text transform="translate(160.2,979.0) scale(1,1.04)" font-size="44.3" text-anchor="end" fill="#000" >170</text>
<line x1="172.0" y1="889.9" x2="194.6" y2="889.9" stroke="#000" stroke-width="3.0" />
<text transform="translate(160.2,904.9) scale(1,1.04)" font-size="44.3" text-anchor="end" fill="#000" >180</text>
<line x1="172.0" y1="815.9" x2="194.6" y2="815.9" stroke="#000" stroke-width="3.0" />
<text transform="translate(160.2,830.9) scale(1,1.04)" font-size="44.3" text-anchor="end" fill="#000" >190</text>
<line x1="172.0" y1="741.8" x2="194.6" y2="741.8" stroke="#000" stroke-width="3.0" />
<text transform="translate(160.2,756.8) scale(1,1.04)" font-size="44.3" text-anchor="end" fill="#000" >200</text>
<line x1="172.0" y1="667.7" x2="194.6" y2="667.7" stroke="#000" stroke-width="3.0" />
<text transform="translate(160.2,682.7) scale(1,1.04)" font-size="44.3" text-anchor="end" fill="#000" >210</text>
<text transform="translate(194.0,1260.5) scale(1,1.04)" font-size="44.3" text-anchor="middle" fill="#000" >0</text>
<text transform="translate(304.0,1260.5) scale(1,1.04)" font-size="44.3" text-anchor="middle" fill="#000" >20</text>
<text transform="translate(414.0,1260.5) scale(1,1.04)" font-size="44.3" text-anchor="middle" fill="#000" >40</text>
<text transform="translate(524.0,1260.5) scale(1,1.04)" font-size="44.3" text-anchor="middle" fill="#000" >60</text>
<text transform="translate(634.0,1260.5) scale(1,1.04)" font-size="44.3" text-anchor="middle" fill="#000" >80</text>
<text transform="translate(203.2,712.5) scale(1,1.0)" font-size="44.3" text-anchor="start" fill="#000" letter-spacing="0.9">(b)</text>
<text transform="translate(66,1150.6) rotate(-90)" font-size="57" fill="#000" xml:space="preserve">rate (ng/s*cm<tspan font-size="40" dy="-34">2</tspan><tspan font-size="43" dy="34">)</tspan></text>
<text x="301.5" y="1315.5" font-size="54" fill="#000" font-family="Liberation Serif, DejaVu Serif, serif">ϕ</text>
<text transform="translate(346.0,1331.6) scale(1,1.0)" font-size="34.5" text-anchor="start" fill="#000" >Ar</text>
<text transform="translate(405.0,1315.2) scale(1,1.0)" font-size="51.4" text-anchor="start" fill="#000" >(sccm)</text>
<polyline points="221.5,1157.7 249.0,1015.8 331.5,934.4 469.0,807.0 606.5,688.4 689.0,678.1" fill="none" stroke="#0a3cf5" stroke-width="4.3" stroke-linejoin="round"/>
<line x1="221.5" y1="1142.1" x2="221.5" y2="1173.2" stroke="#0a3cf5" stroke-width="3.0" />
<line x1="212.0" y1="1142.1" x2="231.0" y2="1142.1" stroke="#0a3cf5" stroke-width="3.0" />
<line x1="212.0" y1="1173.2" x2="231.0" y2="1173.2" stroke="#0a3cf5" stroke-width="3.0" />
<circle cx="221.5" cy="1157.7" r="9.2" fill="#0a3cf5"/>
<line x1="249.0" y1="997.3" x2="249.0" y2="1034.3" stroke="#0a3cf5" stroke-width="3.0" />
<line x1="239.5" y1="997.3" x2="258.5" y2="997.3" stroke="#0a3cf5" stroke-width="3.0" />
<line x1="239.5" y1="1034.3" x2="258.5" y2="1034.3" stroke="#0a3cf5" stroke-width="3.0" />
<circle cx="249.0" cy="1015.8" r="9.2" fill="#0a3cf5"/>
<line x1="331.5" y1="914.4" x2="331.5" y2="954.3" stroke="#0a3cf5" stroke-width="3.0" />
<line x1="322.0" y1="914.4" x2="341.0" y2="914.4" stroke="#0a3cf5" stroke-width="3.0" />
<line x1="322.0" y1="954.3" x2="341.0" y2="954.3" stroke="#0a3cf5" stroke-width="3.0" />
<circle cx="331.5" cy="934.4" r="9.2" fill="#0a3cf5"/>
<line x1="469.0" y1="785.5" x2="469.0" y2="828.4" stroke="#0a3cf5" stroke-width="3.0" />
<line x1="459.5" y1="785.5" x2="478.5" y2="785.5" stroke="#0a3cf5" stroke-width="3.0" />
<line x1="459.5" y1="828.4" x2="478.5" y2="828.4" stroke="#0a3cf5" stroke-width="3.0" />
<circle cx="469.0" cy="807.0" r="9.2" fill="#0a3cf5"/>
<line x1="606.5" y1="665.5" x2="606.5" y2="711.4" stroke="#0a3cf5" stroke-width="3.0" />
<line x1="597.0" y1="665.5" x2="616.0" y2="665.5" stroke="#0a3cf5" stroke-width="3.0" />
<line x1="597.0" y1="711.4" x2="616.0" y2="711.4" stroke="#0a3cf5" stroke-width="3.0" />
<circle cx="606.5" cy="688.4" r="9.2" fill="#0a3cf5"/>
<line x1="689.0" y1="662.5" x2="689.0" y2="701.0" stroke="#0a3cf5" stroke-width="3.0" />
<line x1="679.5" y1="701.0" x2="698.5" y2="701.0" stroke="#0a3cf5" stroke-width="3.0" />
<circle cx="689.0" cy="678.1" r="9.2" fill="#0a3cf5"/>
<ellipse cx="246" cy="1016" rx="36.6" ry="37.8" fill="none" stroke="#fa0008" stroke-width="4.6"/>
<line x1="284" y1="1018" x2="366" y2="1016" stroke="#fa0008" stroke-width="4.4"/>
<polygon points="363,1008 394,1016 363,1024.5" fill="#fa0008"/>
<rect x="186.6" y="1343.5" width="534.1" height="544.0999999999999" fill="none" stroke="#000" stroke-width="3.0"/>
<line x1="293.2" y1="1887.6" x2="293.2" y2="1910.5" stroke="#000" stroke-width="3.0" />
<text transform="translate(293.2,1959.3) scale(1,1.04)" font-size="41.3" text-anchor="middle" fill="#000" >40</text>
<line x1="433.9" y1="1887.6" x2="433.9" y2="1910.5" stroke="#000" stroke-width="3.0" />
<text transform="translate(433.9,1959.3) scale(1,1.04)" font-size="41.3" text-anchor="middle" fill="#000" >60</text>
<line x1="574.6" y1="1887.6" x2="574.6" y2="1910.5" stroke="#000" stroke-width="3.0" />
<text transform="translate(574.6,1959.3) scale(1,1.04)" font-size="41.3" text-anchor="middle" fill="#000" >80</text>
<line x1="715.3" y1="1887.6" x2="715.3" y2="1910.5" stroke="#000" stroke-width="3.0" />
<text transform="translate(715.3,1959.3) scale(1,1.04)" font-size="41.3" text-anchor="middle" fill="#000" >100</text>
<line x1="164.0" y1="1814.8" x2="186.6" y2="1814.8" stroke="#000" stroke-width="3.0" />
<text transform="translate(154.4,1828.3) scale(1,1.04)" font-size="41.3" text-anchor="end" fill="#000" >100</text>
<line x1="164.0" y1="1723.9" x2="186.6" y2="1723.9" stroke="#000" stroke-width="3.0" />
<text transform="translate(154.4,1737.4) scale(1,1.04)" font-size="41.3" text-anchor="end" fill="#000" >200</text>
<line x1="164.0" y1="1633.0" x2="186.6" y2="1633.0" stroke="#000" stroke-width="3.0" />
<text transform="translate(154.4,1646.5) scale(1,1.04)" font-size="41.3" text-anchor="end" fill="#000" >300</text>
<line x1="164.0" y1="1542.1" x2="186.6" y2="1542.1" stroke="#000" stroke-width="3.0" />
<text transform="translate(154.4,1555.6) scale(1,1.04)" font-size="41.3" text-anchor="end" fill="#000" >400</text>
<line x1="164.0" y1="1451.2" x2="186.6" y2="1451.2" stroke="#000" stroke-width="3.0" />
<text transform="translate(154.4,1464.7) scale(1,1.04)" font-size="41.3" text-anchor="end" fill="#000" >500</text>
<line x1="164.0" y1="1360.3" x2="186.6" y2="1360.3" stroke="#000" stroke-width="3.0" />
<text transform="translate(154.4,1373.8) scale(1,1.04)" font-size="41.3" text-anchor="end" fill="#000" >600</text>
<text transform="translate(501.3,2006.7) scale(1,1.0)" font-size="53.2" text-anchor="middle" fill="#000" >Power (W)</text>
<text transform="translate(662.6,1391.7) scale(1,1.0)" font-size="41.5" text-anchor="start" fill="#000" >(c)</text>
<text transform="translate(66,1790.2) rotate(-90)" font-size="53.5" fill="#000" xml:space="preserve">rate (ng/s·cm<tspan font-size="37" dy="-33.3">2</tspan><tspan font-size="40" dy="33.3">)</tspan></text>
<line x1="211" y1="1374.5" x2="286.5" y2="1374.5" stroke="#fa0008" stroke-width="4.4" stroke-linecap="round"/>
<text transform="translate(304.3,1386.3) scale(1,1.04)" font-size="41.6" text-anchor="start" fill="#000" >25sccm</text>
<line x1="211" y1="1424.2" x2="286.5" y2="1424.2" stroke="#0f32cd" stroke-width="4.4" stroke-linecap="round"/>
<text transform="translate(304.3,1435.8) scale(1,1.04)" font-size="41.6" text-anchor="start" fill="#000" >50sccm</text>
<line x1="211" y1="1473.6" x2="286.5" y2="1473.6" stroke="#0f9619" stroke-width="4.4" stroke-linecap="round"/>
<text transform="translate(304.3,1484.9) scale(1,1.04)" font-size="41.6" text-anchor="start" fill="#000" >100sccm</text>
<line x1="211" y1="1523.4" x2="286.5" y2="1523.4" stroke="#c88c12" stroke-width="4.4" stroke-linecap="round"/>
<text transform="translate(304.3,1534.5) scale(1,1.04)" font-size="41.6" text-anchor="start" fill="#000" >150sccm</text>
<line x1="248.2" y1="1364.1" x2="248.2" y2="1384.9" stroke="#fa0008" stroke-width="4.4" stroke-linecap="round"/>
<circle cx="248.2" cy="1424.2" r="12.4" fill="none" stroke="#0f32cd" stroke-width="4.4"/>
<rect x="238.2" y="1463.6" width="20.4" height="20.4" fill="none" stroke="#0f9619" stroke-width="4.3" stroke-linejoin="round"/>
<polygon points="246.6,1512.1000000000001 256.8,1532.1000000000001 236.4,1532.1000000000001" fill="none" stroke="#c88c12" stroke-width="4.3" stroke-linejoin="round"/>
<polyline points="205.2,1887.2 327.9,1834.7 452.9,1803.7 720.7,1789.3" fill="none" stroke="#fa0008" stroke-width="4" stroke-linejoin="round"/>
<line x1="205.2" y1="1884.0" x2="205.2" y2="1890.5" stroke="#fa0008" stroke-width="2.6" />
<line x1="196.4" y1="1884.0" x2="214.0" y2="1884.0" stroke="#fa0008" stroke-width="2.7" />
<line x1="196.4" y1="1890.5" x2="214.0" y2="1890.5" stroke="#fa0008" stroke-width="2.7" />
<line x1="197.7" y1="1887.2" x2="212.7" y2="1887.2" stroke="#fa0008" stroke-width="3.6" />
<line x1="205.2" y1="1879.7" x2="205.2" y2="1894.7" stroke="#fa0008" stroke-width="3.6" />
<line x1="327.9" y1="1831.0" x2="327.9" y2="1838.5" stroke="#fa0008" stroke-width="2.6" />
<line x1="319.1" y1="1831.0" x2="336.7" y2="1831.0" stroke="#fa0008" stroke-width="2.7" />
<line x1="319.1" y1="1838.5" x2="336.7" y2="1838.5" stroke="#fa0008" stroke-width="2.7" />
<line x1="320.4" y1="1834.7" x2="335.4" y2="1834.7" stroke="#fa0008" stroke-width="3.6" />
<line x1="327.9" y1="1827.2" x2="327.9" y2="1842.2" stroke="#fa0008" stroke-width="3.6" />
<line x1="452.9" y1="1799.0" x2="452.9" y2="1808.5" stroke="#fa0008" stroke-width="2.6" />
<line x1="444.1" y1="1799.0" x2="461.7" y2="1799.0" stroke="#fa0008" stroke-width="2.7" />
<line x1="444.1" y1="1808.5" x2="461.7" y2="1808.5" stroke="#fa0008" stroke-width="2.7" />
<line x1="445.4" y1="1803.7" x2="460.4" y2="1803.7" stroke="#fa0008" stroke-width="3.6" />
<line x1="452.9" y1="1796.2" x2="452.9" y2="1811.2" stroke="#fa0008" stroke-width="3.6" />
<line x1="720.7" y1="1784.0" x2="720.7" y2="1795.5" stroke="#fa0008" stroke-width="2.6" />
<line x1="711.9" y1="1784.0" x2="729.5" y2="1784.0" stroke="#fa0008" stroke-width="2.7" />
<line x1="711.9" y1="1795.5" x2="729.5" y2="1795.5" stroke="#fa0008" stroke-width="2.7" />
<line x1="713.2" y1="1789.3" x2="728.2" y2="1789.3" stroke="#fa0008" stroke-width="3.6" />
<line x1="720.7" y1="1781.8" x2="720.7" y2="1796.8" stroke="#fa0008" stroke-width="3.6" />
<polyline points="199.3,1863.2 314.0,1827.5 432.7,1795.7 685.3,1772.6" fill="none" stroke="#0f32cd" stroke-width="4" stroke-linejoin="round"/>
<line x1="199.3" y1="1859.0" x2="199.3" y2="1867.5" stroke="#0f32cd" stroke-width="2.6" />
<line x1="190.5" y1="1859.0" x2="208.1" y2="1859.0" stroke="#0f32cd" stroke-width="2.7" />
<line x1="190.5" y1="1867.5" x2="208.1" y2="1867.5" stroke="#0f32cd" stroke-width="2.7" />
<circle cx="199.3" cy="1863.2" r="8.4" fill="none" stroke="#0f32cd" stroke-width="3.8"/>
<line x1="314.0" y1="1822.5" x2="314.0" y2="1832.5" stroke="#0f32cd" stroke-width="2.6" />
<line x1="305.2" y1="1822.5" x2="322.8" y2="1822.5" stroke="#0f32cd" stroke-width="2.7" />
<line x1="305.2" y1="1832.5" x2="322.8" y2="1832.5" stroke="#0f32cd" stroke-width="2.7" />
<circle cx="314" cy="1827.5" r="8.4" fill="none" stroke="#0f32cd" stroke-width="3.8"/>
<line x1="432.7" y1="1790.0" x2="432.7" y2="1801.5" stroke="#0f32cd" stroke-width="2.6" />
<line x1="423.9" y1="1790.0" x2="441.5" y2="1790.0" stroke="#0f32cd" stroke-width="2.7" />
<line x1="423.9" y1="1801.5" x2="441.5" y2="1801.5" stroke="#0f32cd" stroke-width="2.7" />
<circle cx="432.7" cy="1795.7" r="8.4" fill="none" stroke="#0f32cd" stroke-width="3.8"/>
<line x1="685.3" y1="1762.7" x2="685.3" y2="1782.7" stroke="#0f32cd" stroke-width="2.6" />
<line x1="676.5" y1="1762.7" x2="694.1" y2="1762.7" stroke="#0f32cd" stroke-width="2.7" />
<line x1="676.5" y1="1782.7" x2="694.1" y2="1782.7" stroke="#0f32cd" stroke-width="2.7" />
<circle cx="685.3" cy="1772.6" r="8.4" fill="none" stroke="#0f32cd" stroke-width="3.8"/>
<polyline points="192.7,1814.7 299.3,1766.5 409.7,1712.5 651.0,1563.8" fill="none" stroke="#0f9619" stroke-width="4" stroke-linejoin="round"/>
<line x1="192.7" y1="1810.0" x2="192.7" y2="1819.5" stroke="#0f9619" stroke-width="2.6" />
<line x1="183.9" y1="1810.0" x2="201.5" y2="1810.0" stroke="#0f9619" stroke-width="2.7" />
<line x1="183.9" y1="1819.5" x2="201.5" y2="1819.5" stroke="#0f9619" stroke-width="2.7" />
<rect x="186.39999999999998" y="1808.4" width="12.6" height="12.6" fill="none" stroke="#0f9619" stroke-width="3.8" stroke-linejoin="round"/>
<line x1="299.3" y1="1756.5" x2="299.3" y2="1776.8" stroke="#0f9619" stroke-width="2.6" />
<line x1="290.5" y1="1756.5" x2="308.1" y2="1756.5" stroke="#0f9619" stroke-width="2.7" />
<line x1="290.5" y1="1776.8" x2="308.1" y2="1776.8" stroke="#0f9619" stroke-width="2.7" />
<rect x="293.0" y="1760.2" width="12.6" height="12.6" fill="none" stroke="#0f9619" stroke-width="3.8" stroke-linejoin="round"/>
<line x1="409.7" y1="1697.6" x2="409.7" y2="1727.0" stroke="#0f9619" stroke-width="2.6" />
<line x1="400.9" y1="1697.6" x2="418.5" y2="1697.6" stroke="#0f9619" stroke-width="2.7" />
<line x1="400.9" y1="1727.0" x2="418.5" y2="1727.0" stroke="#0f9619" stroke-width="2.7" />
<rect x="403.4" y="1706.2" width="12.6" height="12.6" fill="none" stroke="#0f9619" stroke-width="3.8" stroke-linejoin="round"/>
<line x1="651.0" y1="1537.5" x2="651.0" y2="1588.7" stroke="#0f9619" stroke-width="2.6" />
<line x1="642.2" y1="1537.5" x2="659.8" y2="1537.5" stroke="#0f9619" stroke-width="2.7" />
<line x1="642.2" y1="1588.7" x2="659.8" y2="1588.7" stroke="#0f9619" stroke-width="2.7" />
<rect x="644.7" y="1557.5" width="12.6" height="12.6" fill="none" stroke="#0f9619" stroke-width="3.8" stroke-linejoin="round"/>
<polyline points="186.5,1784.0 289.2,1721.0 396.6,1628.6 627.3,1384.7" fill="none" stroke="#c88c12" stroke-width="4" stroke-linejoin="round"/>
<line x1="186.5" y1="1775.5" x2="186.5" y2="1794.7" stroke="#c88c12" stroke-width="2.6" />
<line x1="177.7" y1="1775.5" x2="195.3" y2="1775.5" stroke="#c88c12" stroke-width="2.7" />
<line x1="177.7" y1="1794.7" x2="195.3" y2="1794.7" stroke="#c88c12" stroke-width="2.7" />
<polygon points="186.5,1776.4 193.4,1788.3 179.6,1788.3" fill="none" stroke="#c88c12" stroke-width="3.6" stroke-linejoin="round"/>
<line x1="289.2" y1="1706.6" x2="289.2" y2="1735.4" stroke="#c88c12" stroke-width="2.6" />
<line x1="280.4" y1="1706.6" x2="298.0" y2="1706.6" stroke="#c88c12" stroke-width="2.7" />
<line x1="280.4" y1="1735.4" x2="298.0" y2="1735.4" stroke="#c88c12" stroke-width="2.7" />
<polygon points="289.2,1713.4 296.09999999999997,1725.3 282.3,1725.3" fill="none" stroke="#c88c12" stroke-width="3.6" stroke-linejoin="round"/>
<line x1="396.6" y1="1607.0" x2="396.6" y2="1650.6" stroke="#c88c12" stroke-width="2.6" />
<line x1="387.8" y1="1607.0" x2="405.4" y2="1607.0" stroke="#c88c12" stroke-width="2.7" />
<line x1="387.8" y1="1650.6" x2="405.4" y2="1650.6" stroke="#c88c12" stroke-width="2.7" />
<polygon points="396.6,1621.0 403.5,1632.8999999999999 389.70000000000005,1632.8999999999999" fill="none" stroke="#c88c12" stroke-width="3.6" stroke-linejoin="round"/>
<line x1="627.3" y1="1343.5" x2="627.3" y2="1427.3" stroke="#c88c12" stroke-width="2.6" />
<line x1="618.5" y1="1343.5" x2="636.1" y2="1343.5" stroke="#c88c12" stroke-width="2.7" />
<line x1="618.5" y1="1427.3" x2="636.1" y2="1427.3" stroke="#c88c12" stroke-width="2.7" />
<polygon points="627.3,1377.1000000000001 634.1999999999999,1389.0 620.4,1389.0" fill="none" stroke="#c88c12" stroke-width="3.6" stroke-linejoin="round"/>
</svg>
</body></html>
